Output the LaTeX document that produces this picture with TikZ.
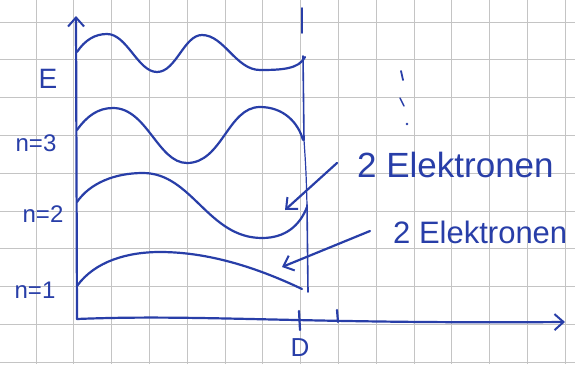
\documentclass[tikz,border=0pt]{standalone}
\usepackage{fontspec}
\setmainfont{Liberation Sans}
\usetikzlibrary{arrows.meta}
\definecolor{ink}{RGB}{40,62,168}
\definecolor{gridc}{RGB}{196,196,196}
\tikzset{
  inkline/.style={draw=ink, line width=2.2pt, line cap=round, line join=round},
  gridline/.style={draw=gridc, line width=0.7pt},
  lbl/.style={text=ink, inner sep=0pt},
  barb/.style={-{Straight Barb[length=9pt,width=16pt,line width=2pt]}}
}
\begin{document}
\begin{tikzpicture}[x=1pt,y=-1pt]
\useasboundingbox (0,0) rectangle (575,364);
\fill[white] (0,0) rectangle (575,364);
% graph paper
\foreach \k in {0,...,14} { \draw[gridline] ({36+37.8*\k},0) -- ({36+37.8*\k},364); }
\foreach \k in {0,...,9} { \draw[gridline] (0,{22+37.8*\k}) -- (575,{22+37.8*\k}); }
% axes
\coordinate (O) at (77,319);
\coordinate (ytop) at (76,16);
\coordinate (xend) at (565,322);
\draw[inkline,barb] (O) -- (ytop);
\draw[inkline,barb] (O) .. controls (200,314) and (300,324) .. (xend);
% ticks
\coordinate (tD1) at (299,311); \coordinate (tD2) at (300,330);
\draw[inkline] (tD1) -- (tD2);
\coordinate (tk1) at (337,310); \coordinate (tk2) at (338,322);
\draw[inkline] (tk1) -- (tk2);
% right wall
\coordinate (w1) at (302,8);  \coordinate (w2) at (302,33);
\coordinate (w3) at (303,56); \coordinate (w4) at (304,140);
\coordinate (w5) at (307,205); \coordinate (w6) at (308,292);
\draw[inkline,line width=1.6pt] (w1) -- (w2);
\draw[inkline,line width=1.6pt] (w3) -- (w4);
\draw[inkline,line width=1.2pt] (w4) .. controls (306,170) .. (w5);
\draw[inkline,line width=1.6pt] (w5) -- (w6);
% wave functions
\draw[inkline] (77,52) .. controls (85,40) and (95,34) .. (107,34)
  .. controls (127,34) and (138,72) .. (157,72)
  .. controls (176,72) and (184,35) .. (202,35)
  .. controls (224,35) and (236,70) .. (260,70)
  .. controls (282,70) and (299,69) .. (305,57);
\draw[inkline] (77,130) .. controls (87,116) and (98,108) .. (113,108)
  .. controls (147,108) and (158,163) .. (187,163)
  .. controls (222,163) and (228,107) .. (260,107)
  .. controls (283,107) and (298,122) .. (303,140);
\draw[inkline] (77,202) .. controls (90,183) and (115,173) .. (143,173)
  .. controls (192,173) and (208,238) .. (262,238)
  .. controls (286,238) and (300,225) .. (307,207);
\draw[inkline] (77,286) .. controls (95,261) and (128,252) .. (160,252)
  .. controls (212,252) and (262,270) .. (302,289);
% arrow targets
\coordinate (t1) at (285,210);
\coordinate (t2) at (282,267);
% labels
\node[lbl,font=\fontsize{28}{30}\selectfont] (E) at (48,79) {E};
\node[lbl,font=\fontsize{24}{26}\selectfont] (n3) at (36,143) {n=3};
\node[lbl,font=\fontsize{24}{26}\selectfont] (n2) at (43,214) {n=2};
\node[lbl,font=\fontsize{24}{26}\selectfont] (n1) at (35,290) {n=1};
\node[lbl,font=\fontsize{26}{28}\selectfont] (D) at (300,348) {D};
\node[lbl,font=\fontsize{35}{37}\selectfont,anchor=west] (e1) at (357,165) {2 Elektronen};
\node[lbl,font=\fontsize{31}{33}\selectfont,anchor=west] (e2) at (393,232) {2 Elektronen};
\draw[inkline,barb] ([xshift=-20pt,yshift=2pt]e1.west) -- (t1);
\draw[inkline,barb] ([xshift=-23pt,yshift=1pt]e2.west) -- (t2);
% vertical dots
\coordinate (d1) at (401,71); \coordinate (d1b) at (403,80);
\coordinate (d2) at (400,98); \coordinate (d2b) at (404,106);
\draw[inkline,line width=1.8pt] (d1) -- (d1b);
\draw[inkline,line width=1.4pt] (d2) -- (d2b);
\fill[ink] (407,124) circle (1.4pt);
\end{tikzpicture}
\end{document}
